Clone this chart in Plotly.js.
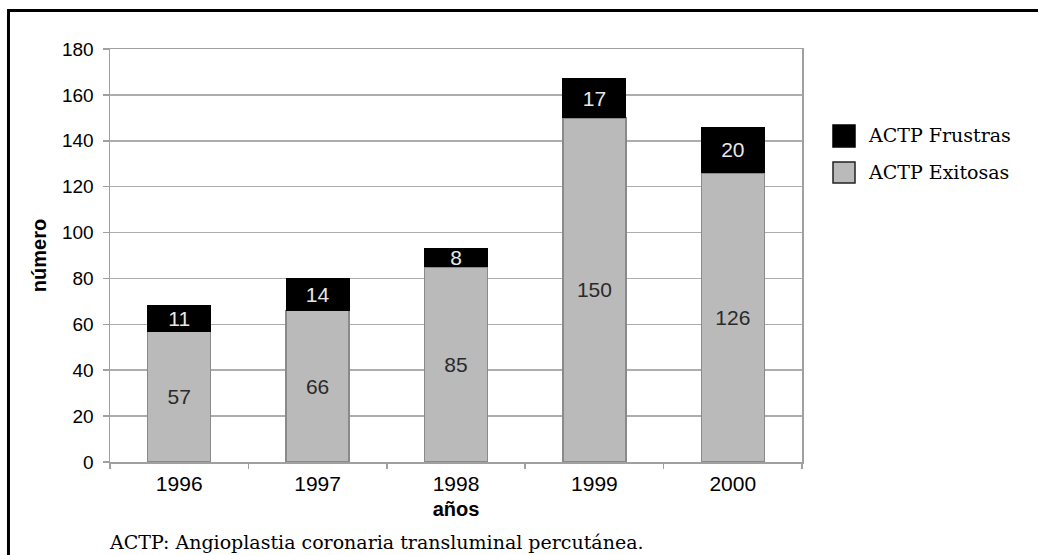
<!DOCTYPE html>
<html>
<head>
<meta charset="utf-8">
<script src="https://cdn.plot.ly/plotly-3.0.1.min.js"></script>
<style>
  html, body { margin: 0; padding: 0; background: #ffffff; }
  #chart { width: 1038px; height: 555px; }
</style>
</head>
<body>
<div id="chart"></div>
<script>
// Angioplastias coronarias por año
const years = ['1996', '1997', '1998', '1999', '2000'];
const exitosas = [57, 66, 85, 150, 126];
const frustras = [11, 14, 8, 17, 20];
const seriesNames = ['ACTP Frustras', 'ACTP Exitosas'];
const footnote = 'ACTP: Angioplastia coronaria transluminal percutánea.';
const yTitle = 'número';
const xTitle = 'años';

const sans = 'Liberation Sans, Arial, sans-serif';
const serif = 'DejaVu Serif, serif';
const grayFill = '#bababa';
const grayLine = '#8a8a8a';
const axisGray = '#a0a0a0';

const traces = [
  {
    type: 'bar',
    name: seriesNames[1],
    x: years,
    y: exitosas,
    text: exitosas.map(String),
    textposition: 'inside',
    insidetextanchor: 'middle',
    textangle: 0,
    constraintext: 'none',
    insidetextfont: { family: sans, size: 21, color: '#2a2a2a' },
    marker: { color: grayFill, line: { color: grayLine, width: 1.5 } },
    hoverinfo: 'skip',
    showlegend: false
  },
  {
    type: 'bar',
    name: seriesNames[0],
    x: years,
    y: frustras,
    text: frustras.map(String),
    textposition: 'inside',
    insidetextanchor: 'middle',
    textangle: 0,
    constraintext: 'none',
    insidetextfont: { family: sans, size: 21, color: '#e8e8e8' },
    marker: { color: '#000000', line: { color: '#000000', width: 1 } },
    hoverinfo: 'skip',
    showlegend: false
  }
];

// Legend drawn as boxes + labels to get large square swatches
const legendItems = [
  { name: seriesNames[0], fill: '#000000', line: '#000000', y0: 0.763, y1: 0.816, ty: 0.7918 },
  { name: seriesNames[1], fill: grayFill, line: '#222222', y0: 0.6755, y1: 0.7264, ty: 0.7022 }
];

const shapes = [
  // outer frame
  { type: 'rect', xref: 'paper', yref: 'paper', x0: -0.1467, x1: 2, y0: -1, y1: 1.0932,
    line: { color: '#000000', width: 3 }, fillcolor: 'rgba(0,0,0,0)', layer: 'below' }
];
const annotations = [
  { xref: 'paper', yref: 'paper', x: -0.005, y: -0.1937, xanchor: 'left', yanchor: 'middle',
    text: footnote, showarrow: false, font: { family: serif, size: 19, color: '#000000' } }
];
legendItems.forEach(it => {
  shapes.push({ type: 'rect', xref: 'paper', yref: 'paper', x0: 1.0448, x1: 1.0766,
    y0: it.y0, y1: it.y1, fillcolor: it.fill, line: { color: it.line, width: 1.5 } });
  annotations.push({ xref: 'paper', yref: 'paper', x: 1.0925, y: it.ty, xanchor: 'left',
    yanchor: 'middle', text: it.name, showarrow: false,
    font: { family: serif, size: 19, color: '#000000' } });
});

const layout = {
  width: 1038,
  height: 555,
  margin: { l: 110, r: 236, t: 49, b: 93, pad: 0 },
  paper_bgcolor: '#ffffff',
  plot_bgcolor: '#ffffff',
  barmode: 'stack',
  bargap: 0.545,
  showlegend: false,
  font: { family: sans, size: 19, color: '#000000' },
  xaxis: {
    type: 'category',
    tickson: 'boundaries',
    ticks: 'outside',
    ticklen: 5,
    tickwidth: 1.5,
    tickcolor: axisGray,
    showline: true,
    linecolor: axisGray,
    linewidth: 1.5,
    mirror: true,
    showgrid: false,
    ticklabelstandoff: 2,
    tickfont: { family: sans, size: 21, color: '#000000' },
    title: { text: xTitle, standoff: 8, font: { family: sans, size: 20, weight: 'bold', color: '#000000' } }
  },
  yaxis: {
    range: [0, 180],
    dtick: 20,
    ticks: 'outside',
    ticklen: 6,
    tickwidth: 1.5,
    tickcolor: axisGray,
    showline: true,
    linecolor: axisGray,
    linewidth: 1.5,
    mirror: true,
    showgrid: true,
    gridcolor: '#adadad',
    gridwidth: 1.5,
    zeroline: false,
    ticklabelstandoff: 5,
    tickfont: { family: sans, size: 19, color: '#000000' },
    title: { text: yTitle, standoff: 10, font: { family: sans, size: 20, weight: 'bold', color: '#000000' } }
  },
  shapes: shapes,
  annotations: annotations
};

Plotly.newPlot('chart', traces, layout, { displayModeBar: false, staticPlot: true });
</script>
</body>
</html>
